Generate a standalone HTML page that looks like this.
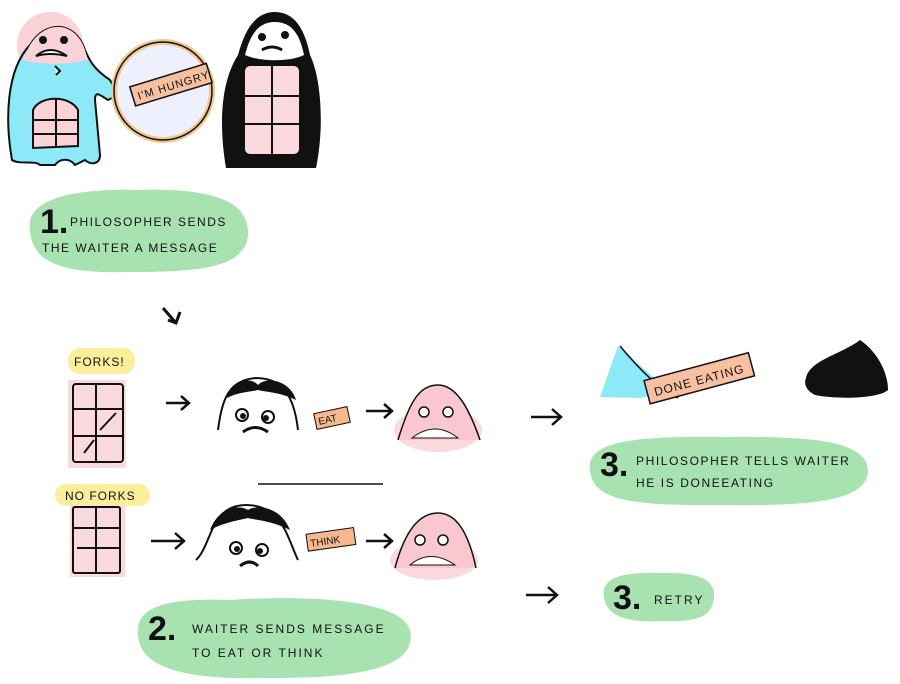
<!DOCTYPE html>
<html><head><style>
html,body{margin:0;padding:0;background:#fff;}
svg{display:block;}
text{font-family:"Liberation Sans",sans-serif;fill:#111;}
.t{font-size:13px;letter-spacing:2px;}
.n{font-size:34px;font-weight:bold;}
</style></head><body>
<svg width="900" height="684" viewBox="0 0 900 684" xmlns="http://www.w3.org/2000/svg">
<!-- Walrus philosopher -->
<circle cx="50" cy="45" r="33" fill="#f9d3d8"/>
<path d="M12 160 C5 120 6 70 30 45 C45 20 75 20 85 50 C90 62 95 70 110 80 L118 95 L108 100 C100 95 95 90 95 100 L100 155 C100 165 90 165 85 160 L75 165 C70 158 60 158 55 165 L40 165 C35 160 20 165 12 160 Z" fill="#8de8f7" stroke="#111" stroke-width="2"/>
<path d="M30 45 C45 20 75 20 85 50 L88 60 C70 65 40 65 22 60 Z" fill="#f9d3d8"/>
<path d="M33 148 L33 110 C40 95 70 95 78 110 L78 146 Z" fill="#f9d3d8" stroke="#111" stroke-width="2"/>
<path d="M56 98 V146 M33 120 H78 M33 134 H78" stroke="#111" stroke-width="2"/>
<circle cx="43" cy="40" r="4" fill="#111"/><circle cx="64" cy="40" r="4" fill="#111"/>
<path d="M36 56 Q50 44 67 56 Q50 52 36 56 Z" stroke="#111" stroke-width="2" fill="#fff"/>
<path d="M55 66 l5 5 -4 4" stroke="#111" stroke-width="2" fill="#fff"/>
<!-- Magnifier -->
<circle cx="163" cy="91" r="49" fill="#eef0fd" stroke="#f0c891" stroke-width="6"/>
<circle cx="163" cy="91" r="49" fill="none" stroke="#111" stroke-width="1.5"/>
<g transform="rotate(-17 170 85)"><rect x="131" y="75" width="80" height="20" fill="#f7c0a0" stroke="#111" stroke-width="1.5"/><text x="136" y="90" font-size="11" letter-spacing="1">I'M HUNGRY</text></g>
<!-- Penguin waiter -->
<path d="M226 168 C218 120 222 80 238 55 C245 30 255 12 275 12 C295 12 305 30 310 55 C322 80 324 130 316 168 Z" fill="#111"/>
<path d="M245 55 C250 35 258 22 275 22 C292 22 300 35 304 55 C290 62 260 62 245 55 Z" fill="#fff"/>
<circle cx="262" cy="37" r="4" fill="#111"/><circle cx="285" cy="35" r="4" fill="#111"/>
<path d="M262 50 Q272 44 282 50" stroke="#111" stroke-width="3" fill="none"/>
<rect x="244" y="65" width="56" height="90" rx="6" fill="#fadadf" stroke="#111" stroke-width="2"/>
<path d="M272 65 V155 M244 96 H300 M244 124 H300" stroke="#111" stroke-width="2"/>
<!-- Step 1 -->
<path d="M30 230 C25 200 70 188 140 190 C210 188 250 200 248 235 C246 270 190 272 130 272 C60 274 32 262 30 230 Z" fill="#a7e2b0"/>
<text x="40" y="233" class="n">1.</text>
<text x="70" y="226" font-size="12" letter-spacing="1.5">PHILOSOPHER SENDS</text>
<text x="42" y="252" font-size="12" letter-spacing="1.5">THE WAITER A MESSAGE</text>
<path d="M163 308 L176 323 M168 320 L176 323 L180 312" stroke="#111" stroke-width="3" fill="none"/>
<!-- Forks row -->
<rect x="68" y="348" width="67" height="26" rx="12" fill="#fbef9c"/>
<text x="74" y="366" font-size="12" letter-spacing="1">FORKS!</text>
<rect x="68" y="380" width="58" height="88" fill="#fadadf"/>
<rect x="73" y="384" width="50" height="78" rx="3" fill="none" stroke="#111" stroke-width="2"/>
<path d="M96 384 V462 M73 409 H123 M73 436 H123" stroke="#111" stroke-width="2"/>
<path d="M100 430 L116 413 M84 453 L94 440" stroke="#111" stroke-width="2"/>
<path d="M166 403 H188 M181 396 L189 403 L181 410" stroke="#111" stroke-width="2.5" fill="none"/>
<path d="M218 430 C222 400 228 380 256 378 C282 378 294 395 298 430" fill="none" stroke="#111" stroke-width="2"/>
<path d="M227 398 C232 380 250 376 258 385 C266 376 290 380 296 400 C280 392 265 392 258 390 C250 392 238 392 227 398 Z" fill="#111"/>
<circle cx="242" cy="415" r="6" fill="none" stroke="#111" stroke-width="2"/><circle cx="243" cy="416" r="3" fill="#111"/>
<circle cx="268" cy="417" r="6" fill="none" stroke="#111" stroke-width="2"/><circle cx="266" cy="418" r="3" fill="#111"/>
<path d="M243 432 Q255 423 268 432" stroke="#111" stroke-width="3" fill="none"/>
<g transform="rotate(-12 332 418)"><rect x="315" y="410" width="34" height="16" fill="#f7b88e" stroke="#111" stroke-width="1"/><text x="318" y="422" font-size="10">EAT</text></g>
<path d="M366 411 H392 M384 404 L392 411 L384 418" stroke="#111" stroke-width="2.5" fill="none"/>
<ellipse cx="438" cy="430" rx="44" ry="22" fill="#fadadf"/>
<path d="M398 440 C410 400 420 385 438 385 C455 385 468 405 480 440" fill="#f9c7d0" stroke="#111" stroke-width="1.5"/>
<circle cx="424" cy="412" r="5" fill="#fff" stroke="#111" stroke-width="1.5"/><circle cx="448" cy="412" r="5" fill="#fff" stroke="#111" stroke-width="1.5"/>
<path d="M412 438 Q435 420 458 438 Z" fill="#fff" stroke="#111" stroke-width="1"/>
<path d="M258 484 H383" stroke="#111" stroke-width="1.5"/>
<!-- No forks row -->
<rect x="55" y="484" width="95" height="22" rx="11" fill="#fbef9c"/>
<text x="65" y="500" font-size="12" letter-spacing="1">NO FORKS</text>
<rect x="70" y="505" width="55" height="72" fill="#fadadf"/>
<rect x="73" y="507" width="47" height="66" rx="2" fill="none" stroke="#111" stroke-width="2"/>
<path d="M96 507 V573 M73 528 H120 M77 548 H120" stroke="#111" stroke-width="2"/>
<path d="M151 541 H183 M175 533 L184 541 L175 549" stroke="#111" stroke-width="2.5" fill="none"/>
<path d="M196 560 C212 545 210 505 246 505 C283 505 288 540 298 560" fill="none" stroke="#111" stroke-width="2"/>
<path d="M210 530 C220 505 240 505 248 510 C255 505 280 505 290 530 C270 520 255 520 248 518 C240 520 225 522 210 530 Z" fill="#111"/>
<circle cx="236" cy="548" r="6" fill="none" stroke="#111" stroke-width="2"/><circle cx="237" cy="549" r="3" fill="#111"/>
<circle cx="262" cy="550" r="6" fill="none" stroke="#111" stroke-width="2"/><circle cx="260" cy="551" r="3" fill="#111"/>
<path d="M240 566 Q250 558 258 566" stroke="#111" stroke-width="3" fill="none"/>
<g transform="rotate(-8 330 540)"><rect x="307" y="531" width="48" height="17" fill="#f7b88e" stroke="#111" stroke-width="1"/><text x="310" y="544" font-size="10">THINK</text></g>
<path d="M366 541 H392 M384 534 L392 541 L384 548" stroke="#111" stroke-width="2.5" fill="none"/>
<ellipse cx="434" cy="560" rx="44" ry="20" fill="#fadadf"/>
<path d="M395 568 C405 530 420 513 438 513 C455 513 468 530 476 568" fill="#f9c7d0" stroke="#111" stroke-width="1.5"/>
<circle cx="420" cy="540" r="5" fill="#fff" stroke="#111" stroke-width="1.5"/><circle cx="443" cy="540" r="5" fill="#fff" stroke="#111" stroke-width="1.5"/>
<path d="M410 565 Q430 548 455 565 Z" fill="#fff" stroke="#111" stroke-width="1"/>
<!-- Step 2 -->
<path d="M138 635 C135 605 170 598 230 600 C300 595 400 598 410 630 C418 668 360 678 270 678 C190 680 140 670 138 635 Z" fill="#a7e2b0"/>
<text x="148" y="640" class="n">2.</text>
<text x="192" y="633" font-size="12" letter-spacing="2">WAITER SENDS MESSAGE</text>
<text x="192" y="657" font-size="12" letter-spacing="2">TO EAT OR THINK</text>
<!-- Arrows to step 3 -->
<path d="M531 417 H560 M552 409 L561 417 L552 425" stroke="#111" stroke-width="2.5" fill="none"/>
<path d="M526 595 H556 M548 587 L557 595 L548 603" stroke="#111" stroke-width="2.5" fill="none"/>
<!-- Done eating -->
<path d="M600 397 L618 346 C640 365 660 385 675 392 L640 398 Z" fill="#8de8f7"/>
<path d="M620 346 C640 370 660 390 678 398" stroke="#111" stroke-width="1.5" fill="none"/>
<g transform="rotate(-15 700 377)"><rect x="645" y="366" width="108" height="24" fill="#f7c0a0" stroke="#111" stroke-width="1.5"/><text x="652" y="384" font-size="12" letter-spacing="1">DONE EATING</text></g>
<path d="M806 378 C810 360 840 355 860 340 C875 350 888 370 888 390 C880 398 840 400 815 395 C805 390 804 383 806 378 Z" fill="#111"/>
<!-- Step 3 -->
<path d="M590 470 C585 440 640 436 720 437 C810 436 866 440 868 470 C868 502 810 506 720 505 C630 506 592 500 590 470 Z" fill="#a7e2b0"/>
<text x="600" y="476" class="n">3.</text>
<text x="636" y="465" font-size="12" letter-spacing="1.6">PHILOSOPHER TELLS WAITER</text>
<text x="636" y="487" font-size="12" letter-spacing="1.6">HE IS DONEEATING</text>
<path d="M604 597 C600 575 630 572 660 573 C700 572 716 580 714 598 C712 620 690 622 660 621 C625 623 606 615 604 597 Z" fill="#a7e2b0"/>
<text x="613" y="609" class="n">3.</text>
<text x="654" y="604" font-size="12" letter-spacing="2">RETRY</text>
</svg>
</body></html>
